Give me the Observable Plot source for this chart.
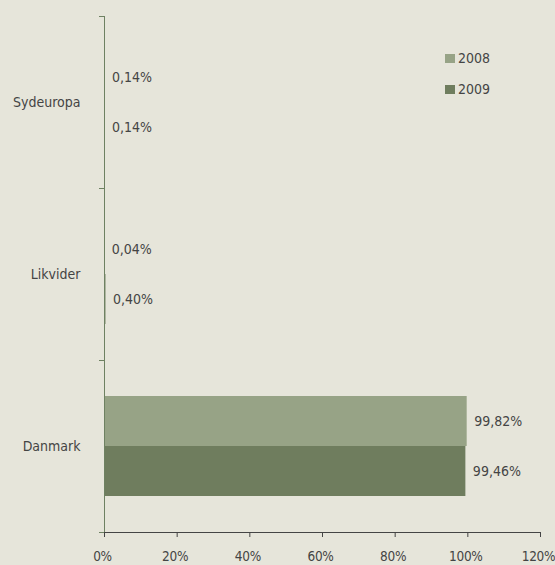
<!DOCTYPE html>
<html><head><meta charset="utf-8">
<script src="https://cdn.jsdelivr.net/npm/d3@7"></script>
<script src="https://cdn.jsdelivr.net/npm/@observablehq/plot@0.6"></script>
<style>
html,body{margin:0;padding:0;background:#e6e5da;}
#wrap{position:relative;width:555px;height:565px;overflow:hidden;font-family:"DejaVu Sans Condensed","DejaVu Sans",sans-serif;}
#legend{position:absolute;left:445px;top:48px;font-size:14px;color:#444;}
.item{display:flex;align-items:center;height:20px;margin-bottom:11px;}
.sw{width:10px;height:9px;margin-right:3px;}
svg g[aria-label="x-axis tick"], svg g[aria-label="x-axis line"], svg g[aria-label="x-axis rule"]{stroke:#6e8162;}
svg g[aria-label="x-axis tick label"]{fill:#444;font-size:13.5px;letter-spacing:-0.3px;}
</style>
</head><body>
<div id="wrap"><div id="chart"></div><div id="legend"></div></div>
<script>
const categories = ["Sydeuropa", "Likvider", "Danmark"];
const years = ["2008", "2009"];
const values2008 = [0.14, 0.04, 99.82];
const values2009 = [0.14, 0.40, 99.46];
const xTicks = [0, 20, 40, 60, 80, 100, 120];
const colors = ["#97a386", "#6f7d5e"];
const axisColor = "#6e8162";

const data = categories.flatMap((c, i) => [
  {cat: c, year: years[0], value: values2008[i]},
  {cat: c, year: years[1], value: values2009[i]}
]);
const fmt = d => d.value.toFixed(2).replace(".", ",") + "%";

const chart = Plot.plot({
  width: 555, height: 565,
  marginLeft: 104, marginRight: 15, marginTop: 15, marginBottom: 33,
  style: {background: "transparent", fontFamily: "'DejaVu Sans Condensed','DejaVu Sans',sans-serif", fontSize: "14px", color: "#444"},
  x: {domain: [0, 120], ticks: xTicks, tickFormat: d => d + "%", tickSize: 5, tickPadding: 14, line: true, label: null},
  fy: {domain: categories, padding: 0, label: null},
  y: {domain: years, paddingInner: 0, paddingOuter: 0.72, axis: null},
  color: {domain: years, range: colors},
  marks: [
    Plot.barX(data, {x: "value", y: "year", fy: "cat", fill: "year"}),
    Plot.text(data, {x: "value", y: "year", fy: "cat", text: fmt, textAnchor: "start", dx: 7, fill: "#444"}),
    Plot.ruleX([0], {stroke: axisColor}),
    Plot.axisFy({anchor: "left", tickSize: 0, tickPadding: 24, fill: "#444", label: null}),
    Plot.axisFy({anchor: "left", text: null, tickSize: 5, dy: -86, stroke: axisColor, label: null}),
    Plot.axisFy({anchor: "left", text: null, tickSize: 5, dy: 86, stroke: axisColor, label: null})
  ]
});
document.getElementById("chart").appendChild(chart);
chart.querySelectorAll('g[aria-label="x-axis tick label"] text').forEach(t => t.setAttribute("dx", "-2"));

const legend = document.getElementById("legend");
years.forEach((y, i) => {
  const it = document.createElement("div");
  it.className = "item";
  it.innerHTML = `<span class="sw" style="background:${colors[i]}"></span><span>${y}</span>`;
  legend.appendChild(it);
});
</script>
</body></html>
